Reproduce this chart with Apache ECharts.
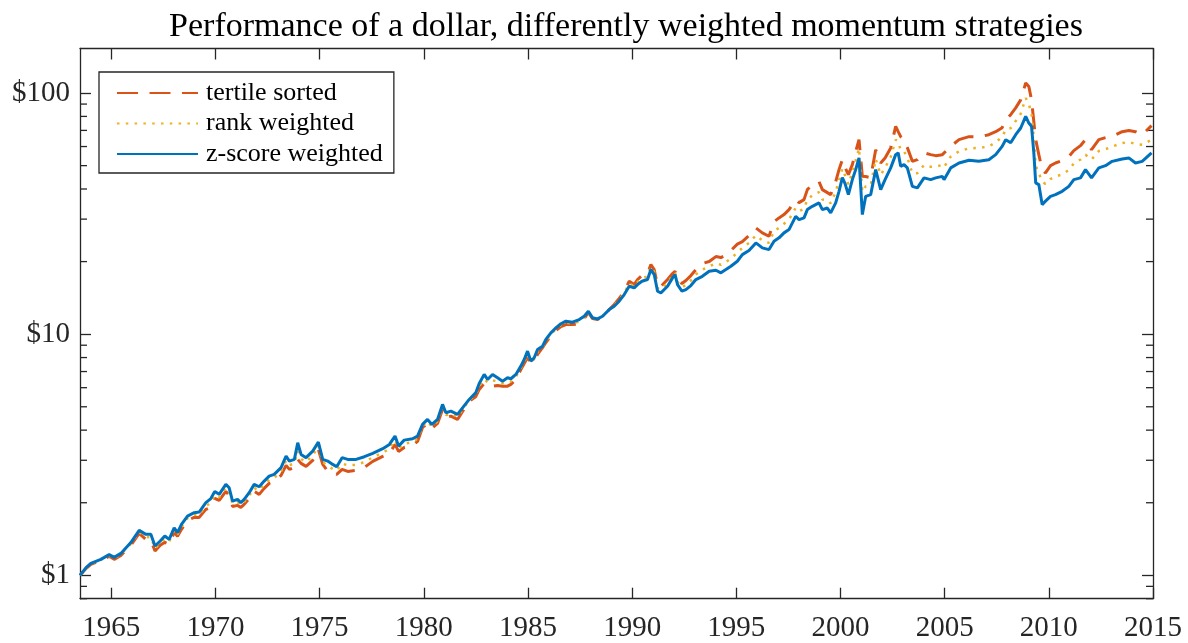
<!DOCTYPE html>
<html>
<head>
<meta charset="utf-8">
<title>Performance of a dollar</title>
<script src="https://cdn.jsdelivr.net/npm/echarts@6/dist/echarts.min.js"></script>
<style>
  html, body { margin: 0; padding: 0; background: #fff; }
  #chart { width: 1188px; height: 643px; }
</style>
</head>
<body>
<div id="chart"></div>
<script>
// dates as decimal years, values = growth of one dollar
const years = [
  1963.50, 1963.80, 1964.02, 1964.50, 1964.90, 1965.14, 1965.46, 1965.94, 1966.34, 1966.66,
  1966.90, 1967.10, 1967.35, 1967.57, 1967.78, 1968.02, 1968.18, 1968.37, 1968.66, 1968.98,
  1969.22, 1969.54, 1969.78, 1969.97, 1970.18, 1970.50, 1970.66, 1970.82, 1971.06, 1971.22,
  1971.38, 1971.62, 1971.86, 1972.10, 1972.34, 1972.58, 1972.82, 1973.15, 1973.39, 1973.55,
  1973.79, 1973.95, 1974.11, 1974.35, 1974.67, 1974.94, 1975.15, 1975.39, 1975.63, 1975.82,
  1976.08, 1976.35, 1976.75, 1977.15, 1977.55, 1978.03, 1978.35, 1978.62, 1978.79, 1979.06,
  1979.46, 1979.70, 1979.94, 1980.18, 1980.39, 1980.66, 1980.90, 1981.06, 1981.30, 1981.62,
  1981.86, 1982.18, 1982.50, 1982.66, 1982.90, 1983.06, 1983.30, 1983.54, 1983.78, 1984.02,
  1984.18, 1984.42, 1984.66, 1984.82, 1984.98, 1985.14, 1985.30, 1985.46, 1985.70, 1985.86,
  1986.10, 1986.34, 1986.58, 1986.82, 1987.14, 1987.46, 1987.70, 1987.90, 1988.10, 1988.34,
  1988.58, 1988.90, 1989.14, 1989.38, 1989.62, 1989.86, 1990.10, 1990.26, 1990.47, 1990.74,
  1990.90, 1991.06, 1991.22, 1991.38, 1991.70, 1991.94, 1992.06, 1992.18, 1992.39, 1992.58,
  1992.82, 1993.06, 1993.37, 1993.70, 1994.02, 1994.26, 1994.50, 1994.74, 1995.05, 1995.29,
  1995.61, 1995.94, 1996.25, 1996.57, 1996.81, 1997.05, 1997.29, 1997.53, 1997.85, 1998.01,
  1998.25, 1998.41, 1998.65, 1998.97, 1999.13, 1999.37, 1999.53, 1999.77, 1999.93, 2000.09,
  2000.22, 2000.38, 2000.57, 2000.73, 2000.89, 2001.05, 2001.21, 2001.45, 2001.69, 2001.93,
  2002.14, 2002.41, 2002.65, 2002.77, 2002.89, 2003.05, 2003.21, 2003.45, 2003.69, 2004.01,
  2004.33, 2004.57, 2004.89, 2004.97, 2005.29, 2005.69, 2006.17, 2006.64, 2007.12, 2007.45,
  2007.76, 2007.93, 2008.17, 2008.41, 2008.65, 2008.89, 2009.04, 2009.17, 2009.28, 2009.37,
  2009.52, 2009.68, 2009.84, 2010.08, 2010.32, 2010.64, 2010.96, 2011.20, 2011.52, 2011.76,
  2012.05, 2012.40, 2012.72, 2013.04, 2013.52, 2013.84, 2014.16, 2014.48, 2014.93
];

const tertileSorted = [
  1.00, 1.069, 1.111, 1.154, 1.199, 1.165, 1.210, 1.332, 1.493, 1.410,
  1.397, 1.261, 1.332, 1.371, 1.345, 1.508, 1.451, 1.551, 1.690, 1.739,
  1.739, 1.877, 1.913, 2.085, 2.045, 2.229, 2.146, 1.931, 1.950, 1.913,
  1.969, 2.085, 2.229, 2.167, 2.294, 2.406, 2.452, 2.597, 2.857, 2.750,
  2.803, 3.025, 2.912, 2.830, 2.997, 3.328, 2.884, 2.706, 2.647, 2.622,
  2.750, 2.698, 2.724, 2.803, 2.968, 3.113, 3.204, 3.490, 3.265, 3.392,
  3.457, 3.592, 4.106, 4.266, 4.067, 4.266, 4.875, 4.517, 4.573, 4.431,
  4.783, 5.262, 5.519, 5.900, 6.248, 6.130, 6.089, 6.130, 6.089, 6.089,
  6.189, 6.491, 7.140, 7.562, 8.007, 7.612, 7.782, 8.239, 8.787, 9.239,
  9.812, 10.35, 10.76, 10.96, 10.96, 11.05, 11.61, 12.30, 11.61, 11.50,
  11.83, 12.65, 13.28, 14.06, 15.02, 16.58, 16.06, 16.85, 17.50, 17.84,
  19.44, 18.53, 15.91, 15.76, 16.85, 17.84, 18.24, 16.85, 16.22, 16.69,
  17.50, 18.53, 19.63, 20.01, 20.98, 20.78, 21.28, 22.22, 23.64, 24.21,
  25.64, 27.59, 26.31, 25.47, 29.30, 30.36, 31.33, 32.86, 36.14, 35.12,
  36.14, 39.76, 41.71, 42.92, 39.76, 38.64, 37.91, 42.92, 48.12, 52.93,
  49.05, 45.88, 50.47, 57.14, 64.06, 45.14, 45.04, 44.59, 58.24, 51.29,
  53.82, 59.20, 72.73, 69.15, 65.93, 64.06, 59.38, 52.09, 52.93, 56.47,
  55.53, 55.00, 55.53, 55.00, 60.10, 64.06, 65.93, 65.73, 67.20, 69.15,
  71.82, 77.50, 81.30, 86.80, 93.70, 110.1, 106.5, 93.70, 76.10, 64.06,
  55.53, 48.12, 46.66, 49.99, 51.29, 52.43, 54.48, 57.70, 60.50, 64.06,
  58.24, 64.06, 65.30, 66.10, 69.15, 69.90, 69.15, 67.20, 73.22
];

const rankWeighted = [
  1.00, 1.074, 1.116, 1.160, 1.208, 1.176, 1.222, 1.349, 1.515, 1.444,
  1.437, 1.292, 1.360, 1.412, 1.377, 1.541, 1.477, 1.588, 1.725, 1.779,
  1.784, 1.938, 1.996, 2.156, 2.105, 2.305, 2.225, 1.981, 2.007, 1.956,
  2.016, 2.143, 2.305, 2.247, 2.375, 2.491, 2.536, 2.695, 2.987, 2.861,
  2.912, 3.276, 3.040, 2.950, 3.133, 3.446, 2.953, 2.838, 2.763, 2.720,
  2.909, 2.857, 2.871, 2.950, 3.084, 3.230, 3.344, 3.632, 3.349, 3.513,
  3.569, 3.684, 4.165, 4.348, 4.145, 4.348, 4.993, 4.619, 4.684, 4.538,
  4.865, 5.312, 5.625, 6.072, 6.520, 6.310, 6.440, 6.360, 6.240, 6.340,
  6.360, 6.650, 7.250, 7.710, 8.250, 7.670, 7.880, 8.440, 8.850, 9.370,
  9.970, 10.48, 10.90, 11.14, 11.08, 11.27, 11.74, 12.37, 11.65, 11.53,
  11.85, 12.65, 13.18, 13.90, 14.83, 16.20, 15.83, 16.47, 17.05, 17.38,
  19.00, 18.12, 15.50, 15.32, 16.35, 17.50, 17.96, 16.47, 15.65, 16.00,
  16.70, 17.70, 18.50, 19.10, 19.70, 19.40, 19.90, 20.60, 21.80, 22.80,
  23.90, 25.70, 24.50, 23.90, 26.70, 27.60, 28.70, 29.90, 33.40, 32.40,
  33.10, 36.20, 37.60, 38.80, 36.20, 36.00, 34.90, 38.90, 43.50, 48.60,
  45.50, 41.80, 47.00, 52.50, 59.00, 39.00, 41.00, 41.30, 53.30, 45.80,
  49.00, 54.30, 64.00, 63.00, 57.80, 57.30, 54.00, 46.50, 46.50, 50.30,
  49.50, 49.60, 50.30, 49.30, 54.50, 57.30, 59.00, 59.20, 60.00, 62.50,
  65.80, 70.50, 71.50, 76.50, 82.00, 95.40, 90.00, 82.00, 65.00, 50.00,
  46.50, 43.00, 42.00, 44.00, 45.00, 46.00, 48.00, 51.00, 53.00, 55.50,
  53.00, 57.50, 58.50, 60.00, 62.00, 62.70, 61.50, 61.00, 64.00
];

const zScoreWeighted = [
  1.00, 1.079, 1.121, 1.165, 1.218, 1.187, 1.233, 1.367, 1.537, 1.479,
  1.479, 1.323, 1.388, 1.455, 1.410, 1.575, 1.503, 1.627, 1.761, 1.819,
  1.830, 2.001, 2.082, 2.229, 2.167, 2.383, 2.307, 2.032, 2.065, 2.001,
  2.065, 2.202, 2.383, 2.330, 2.459, 2.580, 2.622, 2.796, 3.122, 2.977,
  3.025, 3.547, 3.173, 3.076, 3.275, 3.568, 3.025, 2.977, 2.884, 2.822,
  3.076, 3.025, 3.025, 3.104, 3.204, 3.351, 3.490, 3.779, 3.434, 3.637,
  3.685, 3.779, 4.225, 4.431, 4.225, 4.431, 5.114, 4.724, 4.797, 4.648,
  4.949, 5.363, 5.734, 6.248, 6.808, 6.491, 6.808, 6.598, 6.387, 6.598,
  6.535, 6.808, 7.370, 7.856, 8.504, 7.731, 7.985, 8.642, 8.919, 9.508,
  10.13, 10.62, 11.05, 11.32, 11.21, 11.50, 11.87, 12.45, 11.69, 11.57,
  11.87, 12.65, 13.06, 13.70, 14.60, 15.80, 15.57, 16.06, 16.58, 16.85,
  18.53, 17.67, 15.07, 14.84, 15.80, 17.12, 17.67, 16.06, 15.07, 15.31,
  15.91, 16.85, 17.38, 18.24, 18.41, 17.96, 18.53, 19.13, 20.07, 21.38,
  22.22, 23.91, 22.80, 22.43, 24.27, 25.09, 26.31, 27.15, 30.82, 29.86,
  30.36, 32.86, 33.90, 35.02, 32.86, 33.35, 31.84, 35.02, 39.13, 44.59,
  42.11, 37.91, 43.74, 48.12, 53.82, 31.33, 37.30, 37.91, 48.12, 39.76,
  43.74, 48.93, 55.53, 56.47, 49.66, 50.47, 48.93, 41.03, 40.43, 44.48,
  43.74, 44.48, 45.14, 43.74, 48.93, 51.29, 52.62, 52.09, 52.93, 55.53,
  60.10, 64.06, 62.20, 67.20, 71.60, 80.00, 75.10, 72.70, 56.47, 42.40,
  41.71, 34.46, 35.62, 37.30, 37.91, 39.13, 41.03, 43.74, 44.48, 48.12,
  44.48, 48.93, 49.99, 52.09, 53.30, 53.82, 51.29, 52.09, 56.47
];

const yearTicks = [1965, 1970, 1975, 1980, 1985, 1990, 1995, 2000, 2005, 2010, 2015];
const dollarTicks = [1, 10, 100];
const minorDollarTicks = [0.8, 0.9, 2, 3, 4, 5, 6, 7, 8, 9, 20, 30, 40, 50, 60, 70, 80, 90];

const xMin = 1963.5, xMax = 2015;
const yMin = 0.8, yMax = 153;

const serif = "'Liberation Serif', 'Times New Roman', serif";
const axisColor = '#262626';

function pairs(values) {
  return years.map((y, i) => [y, values[i]]);
}

const chart = echarts.init(document.getElementById('chart'));

const xAxisBase = {
  type: 'value',
  min: xMin,
  max: xMax,
  splitLine: { show: false },
  axisLine: { show: true, onZero: false, lineStyle: { color: axisColor, width: 1.3 } },
  axisTick: { show: true, inside: true, length: 11, customValues: yearTicks, lineStyle: { color: axisColor, width: 1.3 } }
};

const yAxisBase = {
  type: 'log',
  logBase: 10,
  min: yMin,
  max: yMax,
  splitLine: { show: false },
  minorTick: { show: false },
  axisLine: { show: true, onZero: false, lineStyle: { color: axisColor, width: 1.3 } },
  axisTick: { show: true, inside: true, length: 11, customValues: dollarTicks, lineStyle: { color: axisColor, width: 1.3 } }
};

const option = {
  animation: false,
  backgroundColor: '#fff',
  title: {
    text: 'Performance of a dollar, differently weighted momentum strategies',
    left: 621,
    top: 5,
    textAlign: 'center',
    textStyle: { fontFamily: serif, fontSize: 34, fontWeight: 'normal', color: '#000' }
  },
  grid: {
    left: 80,
    right: 35,
    top: 48.5,
    bottom: 44.3,
    outerBoundsMode: 'none'
  },
  legend: {
    data: ['tertile sorted', 'rank weighted', 'z-score weighted'],
    orient: 'vertical',
    left: 99,
    top: 72,
    itemWidth: 81,
    itemHeight: 14,
    itemGap: 0.5,
    padding: [6, 11, 4, 17],
    borderColor: '#262626',
    borderWidth: 1.3,
    backgroundColor: '#fff',
    selectedMode: false,
    itemStyle: { opacity: 0 },
    textStyle: { fontFamily: serif, fontSize: 26, color: '#000', lineHeight: 30, padding: [0, 0, 0, 3] }
  },
  xAxis: [
    Object.assign({}, xAxisBase, {
      position: 'bottom',
      axisLabel: {
        customValues: yearTicks,
        margin: 15,
        fontFamily: serif,
        fontSize: 29,
        color: axisColor,
        formatter: function (v) { return String(v); }
      }
    }),
    Object.assign({}, xAxisBase, {
      position: 'top',
      axisLabel: { show: false }
    })
  ],
  yAxis: [
    Object.assign({}, yAxisBase, {
      position: 'left',
      axisLabel: {
        customValues: dollarTicks,
        margin: 10,
        fontFamily: serif,
        fontSize: 29,
        color: axisColor,
        formatter: function (v) { return '$' + v; }
      }
    }),
    Object.assign({}, yAxisBase, {
      position: 'right',
      axisLabel: { show: false }
    })
  ],
  series: [
    {
      name: 'tertile sorted',
      type: 'line',
      data: pairs(tertileSorted),
      showSymbol: false,
      symbol: 'none',
      lineStyle: { color: '#D95319', width: 3, type: [21, 11.5] },
      itemStyle: { color: '#D95319' }
    },
    {
      name: 'rank weighted',
      type: 'line',
      data: pairs(rankWeighted),
      showSymbol: false,
      symbol: 'none',
      lineStyle: { color: '#EDB120', width: 2.5, type: [2.5, 6.3] },
      itemStyle: { color: '#EDB120' }
    },
    {
      name: 'z-score weighted',
      type: 'line',
      data: pairs(zScoreWeighted),
      showSymbol: false,
      symbol: 'none',
      lineStyle: { color: '#0072BD', width: 3 },
      itemStyle: { color: '#0072BD' }
    },
    {
      // minor ticks of the log axis, on both sides of the box
      type: 'custom',
      silent: true,
      data: minorDollarTicks.map(v => [xMin, v]),
      encode: { x: 0, y: 1 },
      renderItem: function (params, api) {
        const v = api.value(1);
        const l = api.coord([xMin, v]);
        const r = api.coord([xMax, v]);
        const style = { stroke: axisColor, lineWidth: 1.3 };
        return {
          type: 'group',
          children: [
            { type: 'line', shape: { x1: l[0], y1: l[1], x2: l[0] + 7, y2: l[1] }, style: style },
            { type: 'line', shape: { x1: r[0] - 7, y1: r[1], x2: r[0], y2: r[1] }, style: style }
          ]
        };
      }
    }
  ]
};

chart.setOption(option);
</script>
</body>
</html>
